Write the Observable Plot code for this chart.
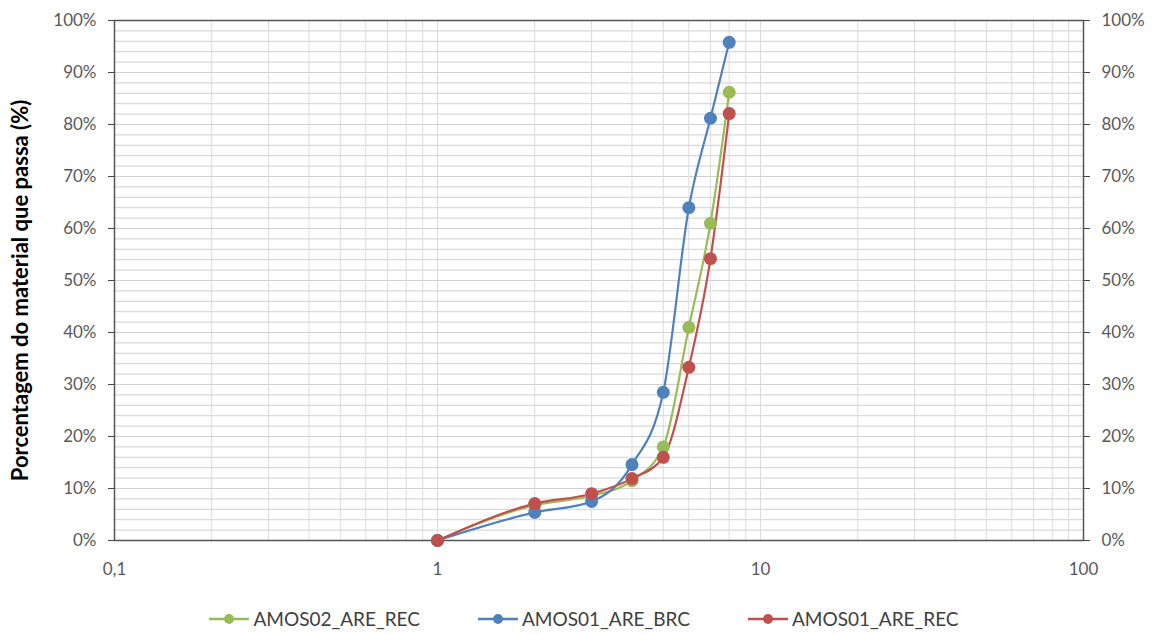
<!DOCTYPE html>
<html>
<head>
<meta charset="utf-8">
<script src="https://cdn.jsdelivr.net/npm/d3@7"></script>
<script src="https://cdn.jsdelivr.net/npm/@observablehq/plot@0.6"></script>
<style>
  html, body { margin: 0; padding: 0; background: #fff; }
  body { width: 1156px; height: 634px; font-family: Lato, "Open Sans", sans-serif; }
  #legend { display: flex; justify-content: center; gap: 58px; margin-top: 27px; font-size: 19px; color: #404040; padding-left: 12px; }
  #legend .item { display: flex; align-items: center; gap: 4px; }
</style>
</head>
<body>
<div id="chart"></div>
<div id="legend"></div>
<script>
const sizes = [1, 2, 3, 4, 5, 6, 7, 8];
const amos02_are_rec = [0, 6.8, 8.6, 11.5, 18, 41, 61, 86.2];
const amos01_are_brc = [0, 5.4, 7.5, 14.6, 28.5, 64, 81.2, 95.8];
const amos01_are_rec = [0, 7.1, 9.0, 11.9, 16, 33.3, 54.2, 82.1];
const seriesNames = ["AMOS02_ARE_REC", "AMOS01_ARE_BRC", "AMOS01_ARE_REC"];
const seriesColors = ["#9BBB59", "#4F81BD", "#C0504D"];
const xTicks = [0.1, 1, 10, 100];
const yLabel = "Porcentagem do material que passa (%)";

const seriesValues = [amos02_are_rec, amos01_are_brc, amos01_are_rec];
const data = seriesValues.flatMap((vals, i) => vals.map((v, j) => ({series: seriesNames[i], x: sizes[j], y: v})));

const minorX = [];
for (const dec of [0.1, 1, 10]) for (let k = 1; k <= 10; k++) minorX.push(+(dec * k).toPrecision(3));
const gridYTicks = d3.range(0, 101, 2);

const chart = Plot.plot({
  width: 1156,
  height: 580,
  marginLeft: 114,
  marginRight: 73,
  marginTop: 20,
  marginBottom: 40,
  style: {fontFamily: "Lato, 'Open Sans', sans-serif", fontSize: "17px", color: "#595959", background: "#fff"},
  x: {type: "log", domain: [0.1, 100]},
  y: {domain: [0, 100]},
  color: {domain: seriesNames, range: seriesColors},
  marks: [
    Plot.gridY(gridYTicks, {stroke: "#d0d0d0", strokeOpacity: 1, strokeWidth: 1}),
    Plot.gridX(minorX, {stroke: "#dcdcdc", strokeOpacity: 1, strokeWidth: 1}),
    Plot.frame({stroke: "#555", strokeWidth: 1.5}),
    Plot.axisX(xTicks, {tickSize: 0, tickPadding: 22, tickFormat: d => String(d).replace(".", ","), fill: "#595959", label: null}),
    Plot.axisY(d3.range(0, 101, 10), {anchor: "left", tickSize: 6, tickPadding: 12, tickFormat: d => d + "%", fill: "#595959", stroke: "#444", label: null}),
    Plot.axisY(d3.range(0, 101, 10), {anchor: "right", tickSize: 6, tickPadding: 12, tickFormat: d => d + "%", fill: "#595959", stroke: "#444", label: null}),
    Plot.text([yLabel], {frameAnchor: "left", dx: -94, dy: 10, rotate: -90, textAnchor: "middle", fontWeight: "bold", fontSize: 22, fill: "#000"}),
    Plot.line(data, {x: "x", y: "y", z: "series", stroke: "series", strokeWidth: 2.2, curve: "monotone-x"}),
    Plot.dot(data, {x: "x", y: "y", fill: "series", r: 6.5})
  ]
});
document.getElementById("chart").appendChild(chart);

const legend = document.getElementById("legend");
seriesNames.forEach((name, i) => {
  const item = document.createElement("div");
  item.className = "item";
  item.innerHTML = `<svg width="40" height="14"><line x1="0" y1="7" x2="40" y2="7" stroke="${seriesColors[i]}" stroke-width="2.5"/><circle cx="20" cy="7" r="5" fill="${seriesColors[i]}"/></svg><span>${name}</span>`;
  legend.appendChild(item);
});
</script>
</body>
</html>
